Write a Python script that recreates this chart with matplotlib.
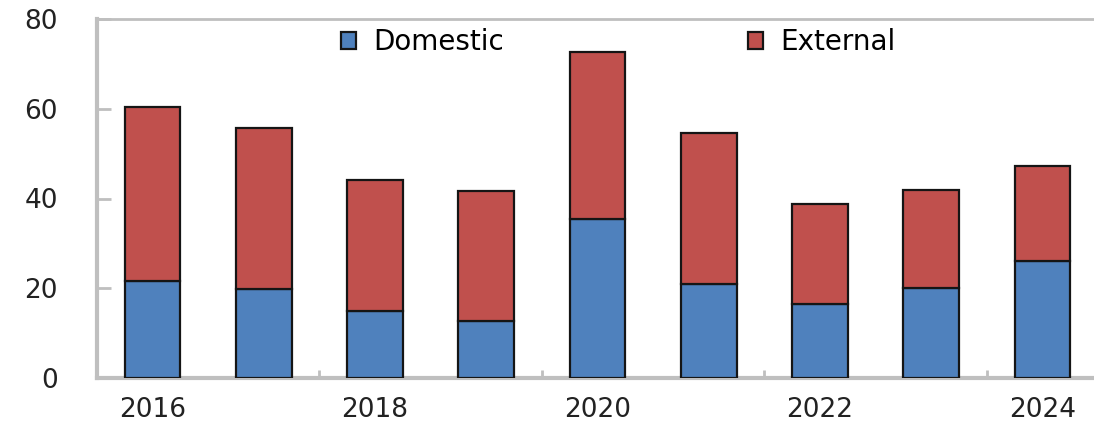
import numpy as np
import matplotlib
matplotlib.use("Agg")
import matplotlib.pyplot as plt

years = [2016, 2017, 2018, 2019, 2020, 2021, 2022, 2023, 2024]
domestic = [21.7, 19.9, 15.0, 12.7, 35.5, 21.0, 16.5, 20.1, 26.1]
total = [60.3, 55.6, 44.2, 41.6, 72.6, 54.5, 38.7, 42.0, 47.2]
external = [t - d for t, d in zip(total, domestic)]
year_labels = ["2016", "2018", "2020", "2022", "2024"]

BLUE = "#4F81BD"
RED = "#C0504D"
GRAY = "#BFBFBF"

plt.rcParams['font.family'] = ['DejaVu Sans']

fig = plt.figure(figsize=(10.94, 4.22), dpi=100)
W, H = 1094, 422
ax = fig.add_axes([97 / W, (H - 378) / H, (1098 - 97) / W, (378 - 19) / H])

x = np.arange(len(years))
ax.bar(x, domestic, width=0.5, color=BLUE, edgecolor="#151515", linewidth=1.6,
       label="Domestic", zorder=3)
ax.bar(x, external, width=0.5, bottom=domestic, color=RED, edgecolor="#151515",
       linewidth=1.6, label="External", zorder=3)

ax.set_xlim(-0.5, 8.5)
ax.set_ylim(0, 80)
ax.set_yticks([0, 20, 40, 60, 80])

ax.set_xticks(x[::2])
ax.set_xticklabels(year_labels)
ax.set_xticks([1.5, 3.5, 5.5, 7.5], minor=True)
ax.tick_params(axis="x", which="major", length=0, pad=14, labelsize=19, labelcolor="#222222")
ax.tick_params(axis="x", which="minor", direction="in", length=6, width=2, color=GRAY)
ax.tick_params(axis="y", direction="in", length=10, width=2, color=GRAY,
               pad=28, labelsize=19, labelcolor="#222222")

for side in ["left", "bottom"]:
    ax.spines[side].set_color(GRAY)
    ax.spines[side].set_linewidth(3)
ax.spines["top"].set_color(GRAY)
ax.spines["top"].set_linewidth(2)
ax.spines["right"].set_visible(False)

ax.legend(loc="center", bbox_to_anchor=(618 / W, 1 - 42 / H),
          bbox_transform=fig.transFigure, ncol=2, frameon=False,
          fontsize=20, handlelength=0.55, handleheight=0.55, handletextpad=0.6,
          columnspacing=8.8)

fig.savefig("out.png", dpi=100)
